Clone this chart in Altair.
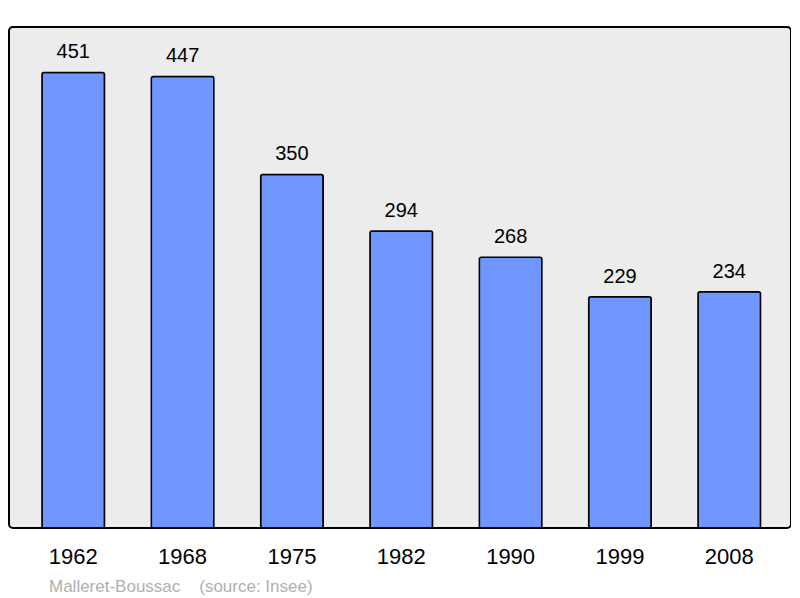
import altair as alt
import pandas as pd

years = ["1962", "1968", "1975", "1982", "1990", "1999", "2008"]
population = [451, 447, 350, 294, 268, 229, 234]

df = pd.DataFrame({"year": years, "pop": population})

FONT = "Liberation Sans"

x = alt.X("year:N", sort=years, title=None,
          scale=alt.Scale(paddingInner=0.428, paddingOuter=0.29, align=0.52),
          axis=alt.Axis(labelAngle=0, labelFontSize=22, labelColor="black",
                        labelFont=FONT, ticks=False, domain=False, labelPadding=18))
y = alt.Y("pop:Q", title=None, scale=alt.Scale(domain=[0, 496], nice=False),
          axis=None)

bars = alt.Chart(df).mark_bar(
    color="#7097ff", stroke="black", strokeWidth=1.5, cornerRadius=2
).encode(x=x, y=y)

labels = alt.Chart(df).mark_text(
    baseline="bottom", dy=-10, fontSize=20, font=FONT, color="black"
).encode(x=x, y=y, text="pop:Q")

chart = (bars + labels).properties(
    width=782, height=501,
    title=alt.TitleParams(
        "Malleret-Boussac\u00a0\u00a0\u00a0\u00a0(source: Insee)",
        orient="bottom", anchor="start", offset=12, fontSize=17,
        font=FONT, fontWeight="normal", color="#b0b0b0", dx=40
    ),
    autosize=alt.AutoSizeParams(type="none"),
    padding={"left": 1, "top": 19, "right": 0, "bottom": 70},
).configure_view(
    fill="#ececec", stroke="black", strokeWidth=2, cornerRadius=4
).configure_axis(grid=False)

chart.save("out.html", embed_options={"renderer": "svg", "actions": False})
